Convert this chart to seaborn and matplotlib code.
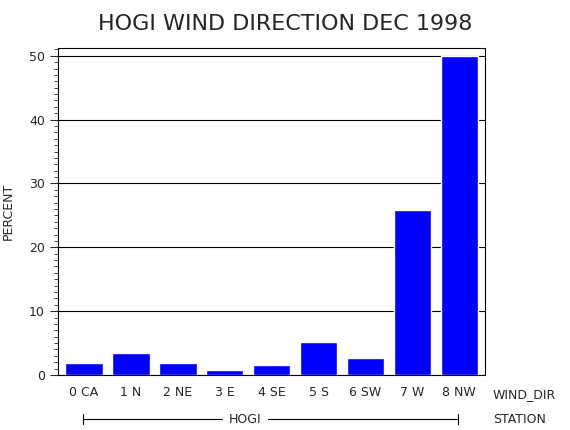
import matplotlib
matplotlib.use("Agg")
import matplotlib.pyplot as plt
import seaborn as sns
from matplotlib.ticker import MultipleLocator

# wind direction categories and percent values
directions = ["0 CA", "1 N", "2 NE", "3 E", "4 SE", "5 S", "6 SW", "7 W", "8 NW"]
percent = [1.8, 3.5, 1.8, 0.8, 1.5, 5.1, 2.6, 25.8, 50.0]
y_ticks = [0, 10, 20, 30, 40, 50]

sns.set_style("white")
plt.rcParams["font.family"] = ["DejaVu Sans"]

fig = plt.figure(figsize=(5.7, 4.3), dpi=100)
ax = fig.add_axes([0.102, 0.128, 0.749, 0.760])

ax.yaxis.grid(True, color="black", linewidth=0.8)
ax.set_axisbelow(True)
sns.barplot(x=directions, y=percent, color="#0000ff", width=0.8,
            saturation=1, ax=ax)

ax.set_ylim(0, 51.2)
ax.set_yticks(y_ticks)
ax.yaxis.set_minor_locator(MultipleLocator(1))
ax.tick_params(axis="y", which="major", length=6, direction="out", left=True,
               labelsize=9)
ax.tick_params(axis="y", which="minor", length=3, direction="out", left=True)
ax.tick_params(axis="x", length=0, labelsize=9, pad=8)
ax.set_xlim(-0.55, 8.55)
for s in ax.spines.values():
    s.set_color("black")
    s.set_linewidth(0.8)

ax.set_ylabel("PERCENT", fontsize=9, labelpad=10)
ax.set_xlabel("")
fig.text(0.5, 0.945, "HOGI WIND DIRECTION DEC 1998", ha="center",
         va="center", fontsize=16)
fig.text(0.865, 0.083, "WIND_DIR", ha="left", va="center", fontsize=9)
fig.text(0.865, 0.025, "STATION", ha="left", va="center", fontsize=9)

# station bracket line
y_line = 0.025
fig.add_artist(plt.Line2D([0.146, 0.39], [y_line, y_line], color="black", lw=0.8))
fig.add_artist(plt.Line2D([0.47, 0.804], [y_line, y_line], color="black", lw=0.8))
fig.add_artist(plt.Line2D([0.146, 0.146], [y_line - 0.012, y_line + 0.012], color="black", lw=0.8))
fig.add_artist(plt.Line2D([0.804, 0.804], [y_line - 0.012, y_line + 0.012], color="black", lw=0.8))
fig.text(0.43, y_line, "HOGI", ha="center", va="center", fontsize=9)

fig.savefig("out.png", dpi=100)
